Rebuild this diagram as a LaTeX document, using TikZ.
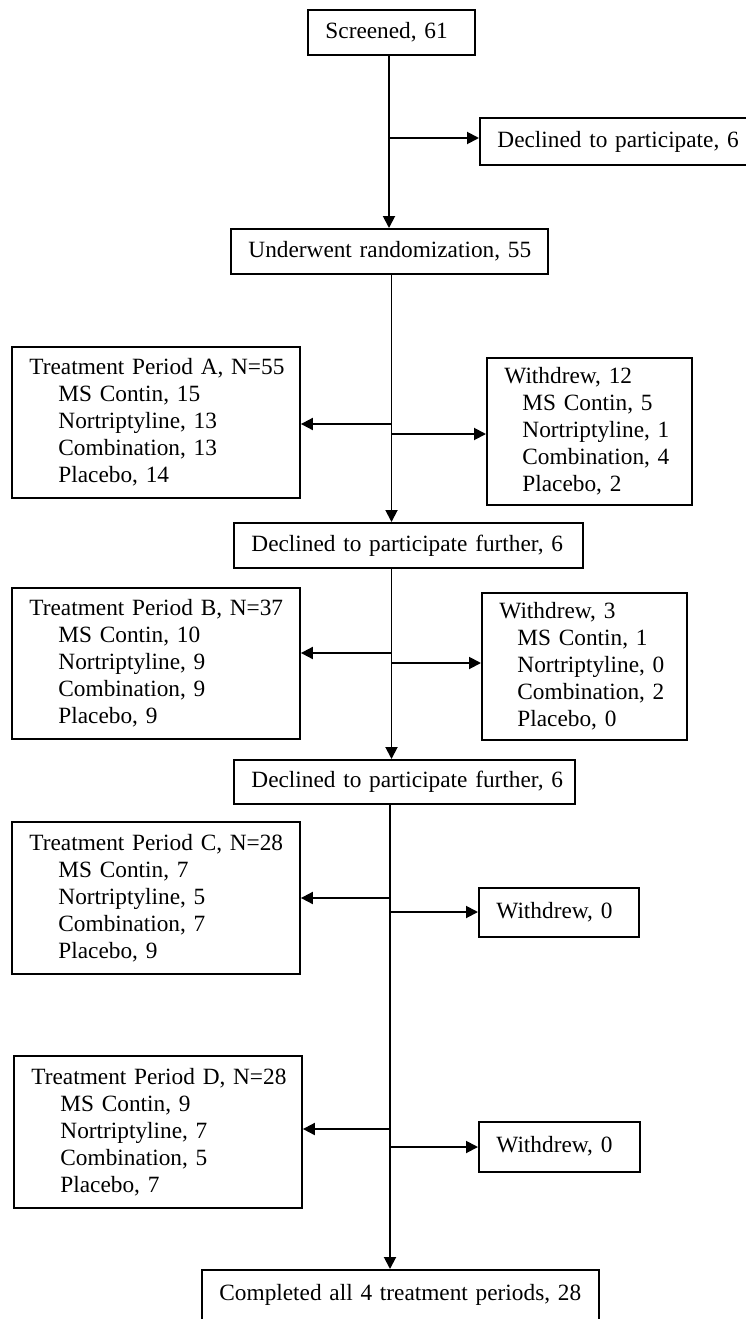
\documentclass[tikz,border=0pt]{standalone}
\usepackage{fontspec}
\setmainfont{Liberation Serif}
\usetikzlibrary{arrows.meta}
\newcommand{\Lx}[1]{\mbox{#1}}
\newcommand{\Ix}[1]{\mbox{\hspace{29pt}#1}}
\newcommand{\Jx}[1]{\mbox{\hspace{18pt}#1}}
\begin{document}
\begin{tikzpicture}[x=1pt,y=-1pt,
  box/.style={draw, line width=1.9pt, rectangle, anchor=north west,
    inner xsep=17.5pt, inner ysep=0pt, align=left,
    font=\fontsize{23.3}{27}\selectfont},
  one/.style={box, text height=16pt, text depth=4pt},
  conn/.style={line width=1.9pt, -{Triangle[length=12pt,width=12pt]}}]
\useasboundingbox (0,0) rectangle (745,1319);

% boxes
\node[one, text width=132pt, minimum height=45pt] (scr) at (307,9) {\Lx{Screened, 61}};
\node[one, text width=246pt, minimum height=47pt] (dec0) at (479,117) {\Lx{Declined to participate, 6}};
\node[one, text width=282pt, minimum height=45pt] (und) at (230,228) {\Lx{Underwent randomization, 55}};

\node[box, text width=253pt, minimum height=151pt] (pA) at (11,346)
  {\Lx{Treatment Period A, N=55}\\\Ix{MS Contin, 15}\\\Ix{Nortriptyline, 13}\\\Ix{Combination, 13}\\\Ix{Placebo, 14}};
\node[box, text width=170pt, minimum height=147pt] (w12) at (486,357)
  {\Lx{Withdrew, 12}\\\Jx{MS Contin, 5}\\\Jx{Nortriptyline, 1}\\\Jx{Combination, 4}\\\Jx{Placebo, 2}};
\node[one, text width=314pt, minimum height=45pt] (df1) at (233,522) {\Lx{Declined to participate further, 6}};

\node[box, text width=253pt, minimum height=151pt] (pB) at (11,587)
  {\Lx{Treatment Period B, N=37}\\\Ix{MS Contin, 10}\\\Ix{Nortriptyline, 9}\\\Ix{Combination, 9}\\\Ix{Placebo, 9}};
\node[box, text width=170pt, minimum height=147pt] (w3) at (481,592)
  {\Lx{Withdrew, 3}\\\Jx{MS Contin, 1}\\\Jx{Nortriptyline, 0}\\\Jx{Combination, 2}\\\Jx{Placebo, 0}};
\node[one, text width=306pt, minimum height=44pt] (df2) at (233,759) {\Lx{Declined to participate further, 6}};

\node[box, text width=253pt, minimum height=152pt] (pC) at (11,821)
  {\Lx{Treatment Period C, N=28}\\\Ix{MS Contin, 7}\\\Ix{Nortriptyline, 5}\\\Ix{Combination, 7}\\\Ix{Placebo, 9}};
\node[one, text width=125pt, minimum height=49pt] (wC) at (478,887) {\Lx{Withdrew, 0}};

\node[box, text width=253pt, minimum height=152pt] (pD) at (13,1055)
  {\Lx{Treatment Period D, N=28}\\\Ix{MS Contin, 9}\\\Ix{Nortriptyline, 7}\\\Ix{Combination, 5}\\\Ix{Placebo, 7}};
\node[one, text width=126pt, minimum height=50pt] (wD) at (478,1121) {\Lx{Withdrew, 0}};

\node[box, text width=362pt, text height=16pt, text depth=60pt, inner ysep=15pt] (comp) at (201,1269)
  {\Lx{Completed all 4 treatment periods, 28}};

% spine x positions and branch points
\coordinate (s1) at (389,0);
\coordinate (s2) at (391.5,0);
\coordinate (s3) at (390,0);
\coordinate (b0) at (389,138);
\coordinate (aL) at (391.5,424);
\coordinate (aR) at (391.5,434);
\coordinate (bL) at (391.5,653);
\coordinate (bR) at (391.5,663);
\coordinate (cL) at (390,898);
\coordinate (cR) at (390,912);
\coordinate (dL) at (390,1129);
\coordinate (dR) at (390,1147);

% connectors
\draw[conn] (scr.south -| s1) -- (und.north -| s1);
\draw[conn] (b0) -- (b0 -| dec0.west);

\draw[conn] (und.south -| s2) -- (df1.north -| s2);
\draw[conn] (aL) -- (aL -| pA.east);
\draw[conn] (aR) -- (aR -| w12.west);

\draw[conn] (df1.south -| s2) -- (df2.north -| s2);
\draw[conn] (bL) -- (bL -| pB.east);
\draw[conn] (bR) -- (bR -| w3.west);

\draw[conn] (df2.south -| s3) -- (comp.north -| s3);
\draw[conn] (cL) -- (cL -| pC.east);
\draw[conn] (cR) -- (cR -| wC.west);
\draw[conn] (dL) -- (dL -| pD.east);
\draw[conn] (dR) -- (dR -| wD.west);
\end{tikzpicture}
\end{document}
